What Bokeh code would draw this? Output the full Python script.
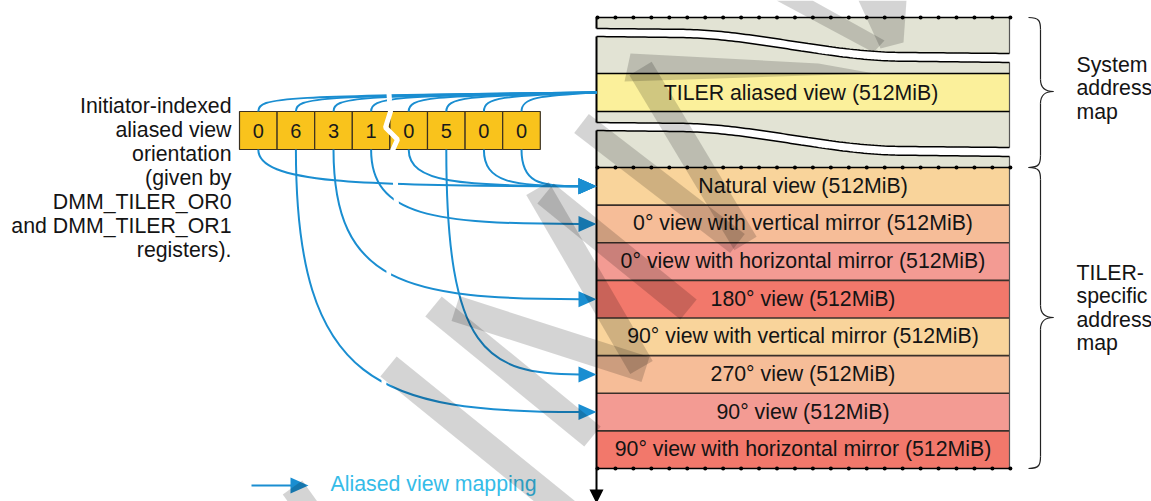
import numpy as np
from bokeh.plotting import figure
from bokeh.models import Range1d, ColumnDataSource
from bokeh.core.properties import value
from bokeh.embed import file_html
from bokeh.resources import INLINE

# ---------------- data ----------------
register_values = [0, 6, 3, 1, 0, 5, 0, 0]
view_labels = [
    "Natural view (512MiB)",
    "0° view with vertical mirror (512MiB)",
    "0° view with horizontal mirror (512MiB)",
    "180° view (512MiB)",
    "90° view with vertical mirror (512MiB)",
    "270° view (512MiB)",
    "90° view (512MiB)",
    "90° view with horizontal mirror (512MiB)",
]
view_colors = ["#f9d49b", "#f6bd98", "#f39b93", "#f2786b",
               "#f9d49b", "#f6bd98", "#f39b93", "#f2786b"]
aliased_label = "TILER aliased view (512MiB)"
left_caption = ["Initiator-indexed", "aliased view", "orientation", "(given by",
                "DMM_TILER_OR0", "and DMM_TILER_OR1", "registers)."]
system_caption = ["System", "address", "map"]
tiler_caption = ["TILER-", "specific", "address", "map"]
legend_label = "Aliased view mapping"

# ---------------- layout constants ----------------
FONT = value("Liberation Sans")
FS = "21.3px"
BLUE = "#1a8ed1"
MX0, MX1 = 596.0, 1009.0
SYS_TOP = 17.0
AL_TOP, AL_BOT = 73.0, 111.0
ROW_TOP, ROW_BOT = 167.0, 468.0
ROW_H = (ROW_BOT - ROW_TOP) / len(view_labels)
CELL_X0, CELL_W = 239.0, 37.6
CELL_TOP, CELL_BOT = 111.0, 149.0
ARROW_TIP = MX0
ARROW_LEN = 17.0

W, H = 1151, 501
p = figure(width=W, height=H, x_range=Range1d(0, W), y_range=Range1d(H, 0),
           output_backend="svg", toolbar_location=None, min_border=0,
           x_axis_location=None, y_axis_location=None)
p.grid.visible = False
p.outline_line_color = None
p.background_fill_color = "white"
p.border_fill_color = "white"

# ---------------- system address map (gray + yellow) ----------------
p.quad(left=[MX0], right=[MX1], top=[SYS_TOP], bottom=[ROW_TOP],
       fill_color="#e2e3d4", line_color=None)
p.quad(left=[MX0], right=[MX1], top=[AL_TOP], bottom=[AL_BOT],
       fill_color="#fbf09b", line_color=None)

# ---------------- TILER-specific rows ----------------
row_tops = [ROW_TOP + i * ROW_H for i in range(len(view_labels))]
row_bots = [t + ROW_H for t in row_tops]
row_cy = [t + ROW_H / 2 for t in row_tops]
p.quad(left=[MX0] * len(view_labels), right=[MX1] * len(view_labels),
       top=row_tops, bottom=row_bots, fill_color=view_colors, line_color=None)
p.segment(x0=[MX0] * 7, x1=[MX1] * 7, y0=row_bots[:-1], y1=row_bots[:-1],
          line_color="#3a302a", line_width=1.6)

# right edge + left axis
p.segment(x0=[MX1], x1=[MX1], y0=[SYS_TOP], y1=[ROW_BOT], line_color="#555555", line_width=1.2)
p.segment(x0=[MX0], x1=[MX0], y0=[SYS_TOP], y1=[490], line_color="black", line_width=2)
p.patch(x=[589, 603, 596], y=[489, 489, 503], fill_color="black", line_color=None)

# gaps (break marks) in system map
gx = np.linspace(MX0, MX1, 120)


def gap_top(x, base):
    t = np.clip((x - 680.0) / 220.0, 0, 1)
    return base + 4.0 * (x - MX0) / (MX1 - MX0) + 21.0 * (3 * t ** 2 - 2 * t ** 3)


for base in (28.0, 122.0):
    top = gap_top(gx, base)
    bot = top + 8.0 + (gx - MX0) / (MX1 - MX0)
    xs = np.concatenate([[MX0 - 4], gx, [MX1 + 4], [MX1 + 4], gx[::-1], [MX0 - 4]])
    ys = np.concatenate([[top[0]], top, [top[-1]], [bot[-1]], bot[::-1], [bot[0]]])
    p.patch(x=xs, y=ys, fill_color="white", line_color=None)
    p.line(x=gx, y=top, line_color="black", line_width=1.5)
    p.line(x=gx, y=bot, line_color="black", line_width=1.5)

p.segment(x0=[MX0, MX0], x1=[MX1, MX1], y0=[AL_TOP, AL_BOT], y1=[AL_TOP, AL_BOT],
          line_color="black", line_width=1.5)

# dotted boundary lines
dots_x = np.arange(597.0, 1011.0, 17.95)
for yy in (SYS_TOP, ROW_TOP, ROW_BOT):
    p.segment(x0=[MX0], x1=[MX1], y0=[yy], y1=[yy], line_color="black", line_width=1.3)
    p.scatter(x=dots_x, y=[yy] * len(dots_x), size=4, marker="circle",
              fill_color="black", line_color=None)

# ---------------- register cells ----------------
n = len(register_values)
cell_l = [CELL_X0 + i * CELL_W for i in range(n)]
cell_r = [l + CELL_W for l in cell_l]
cell_cx = [l + CELL_W / 2 for l in cell_l]
p.quad(left=cell_l, right=cell_r, top=[CELL_TOP] * n, bottom=[CELL_BOT] * n,
       fill_color="#f9c31c", line_color="#3a3020", line_width=1.2)
p.text(x=cell_cx, y=[(CELL_TOP + CELL_BOT) / 2] * n, text=[str(v) for v in register_values],
       text_align="center", text_baseline="middle", text_font=FONT,
       text_font_size="20px", text_color="#1a1a1a")

# ---------------- upper arcs into TILER aliased view ----------------
al_y = (AL_TOP + AL_BOT) / 2
up = dict(x0=cell_cx, y0=[CELL_TOP] * n, x1=[MX0] * n, y1=[al_y] * n,
          cx0=cell_cx, cy0=[97.0] * n, cx1=[c + 18 for c in cell_cx], cy1=[95.0] * n)
p.bezier(source=ColumnDataSource(up), x0="x0", y0="y0", x1="x1", y1="y1",
         cx0="cx0", cy0="cy0", cx1="cx1", cy1="cy1", line_color=BLUE, line_width=2)

# ---------------- lower arcs into the views ----------------
end_x = ARROW_TIP - ARROW_LEN
tgt_y = [row_cy[v] for v in register_values]
lo = dict(x0=cell_cx, y0=[CELL_BOT] * n, x1=[end_x] * n, y1=tgt_y,
          cx0=cell_cx, cy0=[CELL_BOT + 0.9 * (ty - CELL_BOT) for ty in tgt_y],
          cx1=[c + 0.3 * (end_x - c) for c in cell_cx], cy1=tgt_y)
p.bezier(source=ColumnDataSource(lo), x0="x0", y0="y0", x1="x1", y1="y1",
         cx0="cx0", cy0="cy0", cx1="cx1", cy1="cy1", line_color=BLUE, line_width=2)
heads_x = [[end_x - 1, end_x - 1, ARROW_TIP] for _ in tgt_y]
heads_y = [[ty - 8, ty + 8, ty] for ty in tgt_y]
p.patches(xs=heads_x, ys=heads_y, fill_color=BLUE, line_color=None)

# white break (crack) through the register and the arcs
crack_x = [388, 389, 390, 385, 397, 392, 395, 396, 388, 383]
crack_y = [86, 100, 111, 127, 139, 150, 183, 205, 275, 392]
p.line(x=crack_x, y=crack_y, line_color="white", line_width=5)

# ---------------- texts ----------------
p.text(x=[(MX0 + MX1) / 2] * len(view_labels), y=[c - 0.5 for c in row_cy], text=view_labels,
       text_align="center", text_baseline="middle", text_font=FONT,
       text_font_size=FS, text_color="#141414")
p.text(x=[(MX0 + MX1) / 2 - 2], y=[al_y], text=[aliased_label],
       text_align="center", text_baseline="middle", text_font=FONT,
       text_font_size=FS, text_color="#141414")
p.text(x=[231] * len(left_caption), y=[105 + 24 * i for i in range(len(left_caption))],
       text=left_caption, text_align="right", text_baseline="middle", text_font=FONT,
       text_font_size=FS, text_color="#141414")
p.text(x=[1076] * len(system_caption), y=[64 + 23.5 * i for i in range(len(system_caption))],
       text=system_caption, text_align="left", text_baseline="middle", text_font=FONT,
       text_font_size=FS, text_color="#141414")
p.text(x=[1076] * len(tiler_caption), y=[272 + 23.5 * i for i in range(len(tiler_caption))],
       text=tiler_caption, text_align="left", text_baseline="middle", text_font=FONT,
       text_font_size=FS, text_color="#141414")

# ---------------- braces ----------------


def brace(ya, yb, ym, x0=1028.0, xv=1040.0, xt=1053.0, r=12.0):
    bz = [
        (x0, ya, xv, ya + r, xv - 1, ya, xv, ya + 4),
        (xv, ym - r, xt, ym, xv, ym - 3, xt - 8, ym),
        (xt, ym, xv, ym + r, xt - 8, ym, xv, ym + 3),
        (xv, yb - r, x0, yb, xv, yb - 4, xv - 1, yb),
    ]
    segs = [(xv, ya + r, xv, ym - r), (xv, ym + r, xv, yb - r)]
    return bz, segs


for ya, yb, ym in ((SYS_TOP, ROW_TOP, 91.0), (ROW_TOP, ROW_BOT, 317.0)):
    bz, segs = brace(ya, yb, ym)
    bz = np.array(bz)
    p.bezier(x0=bz[:, 0], y0=bz[:, 1], x1=bz[:, 2], y1=bz[:, 3],
             cx0=bz[:, 4], cy0=bz[:, 5], cx1=bz[:, 6], cy1=bz[:, 7],
             line_color="#222222", line_width=1.2)
    sg = np.array(segs)
    p.segment(x0=sg[:, 0], y0=sg[:, 1], x1=sg[:, 2], y1=sg[:, 3],
              line_color="#222222", line_width=1.2)

# ---------------- legend ----------------
p.segment(x0=[251], x1=[292], y0=[485], y1=[485], line_color=BLUE, line_width=2)
p.patch(x=[290, 290, 308], y=[477, 493, 485], fill_color=BLUE, line_color=None)
p.text(x=[330], y=[483], text=[legend_label], text_align="left", text_baseline="middle",
       text_font=FONT, text_font_size=FS, text_color="#35bce8")

# ---------------- watermark strokes ----------------


def band(x0, y0, x1, y1, w):
    d = np.array([x1 - x0, y1 - y0], dtype=float)
    d /= np.hypot(*d)
    nx, ny = -d[1] * w / 2, d[0] * w / 2
    return [x0 + nx, x1 + nx, x1 - nx, x0 - nx], [y0 + ny, y1 + ny, y1 - ny, y0 - ny]


wm_bands = [
    (292, 487, 330, 540, 24),
    (388, 366, 568, 512, 26),
    (433, 306, 592, 436, 26),
    (455, 308, 645, 369, 26),
    (537, 188, 641, 367, 26),
    (545, 193, 688, 309, 26),
    (581, 123, 737, 243, 24),
    (640, 68, 745, 243, 26),
]
wm_xs, wm_ys = [], []
for b in wm_bands:
    bx, by = band(*b)
    wm_xs.append(bx)
    wm_ys.append(by)
wm_xs += [[630, 818, 874, 624], [776, 812, 884, 873], [858, 906, 903, 880]]
wm_ys += [[53, 63, 73, 81], [0, 0, 40, 52], [0, 0, 42, 48]]
p.patches(xs=wm_xs, ys=wm_ys, fill_color="black", fill_alpha=0.17, line_color=None)

open("out.html", "w").write(file_html(p, INLINE))
